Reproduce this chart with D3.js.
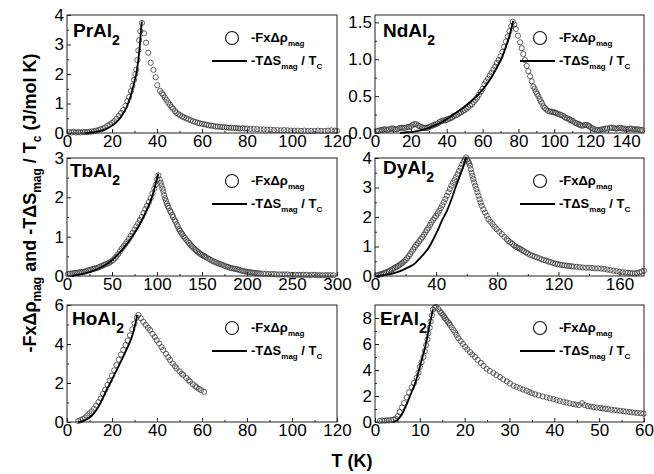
<!DOCTYPE html>
<html>
<head>
<meta charset="utf-8">
<script src="https://cdn.jsdelivr.net/npm/d3@7"></script>
<style>
  body { margin: 0; background: #fff; }
  svg text { font-family: Arial, "Liberation Sans", sans-serif; }
</style>
</head>
<body>
<svg id="chart" width="654" height="474"></svg>
<script>
// measured points, [T (K), value]
const prExp = [[1,0.03],[2,0.02],[3,0.04],[4,0.02],[5,0.03],[6,0.02],[7,0.04],[8,0.03],[9,0.03],[10,0.04],[11,0.05],[12,0.06],[13,0.08],[14,0.1],[15,0.12],[16,0.15],[17,0.19],[18,0.24],[19,0.29],[20,0.34],[21,0.4],[22,0.48],[23,0.58],[24,0.68],[25,0.78],[26,0.92],[26.8,1.08],[27.6,1.22],[28.4,1.42],[29.1,1.6],[29.8,1.8],[30.4,2.0],[30.8,2.15],[31.3,2.47],[31.7,2.8],[32.1,3.15],[32.6,3.45],[33.3,3.73],[34.2,3.38],[35.1,3.06],[36.1,2.72],[37.2,2.38],[38.4,2.14],[39.4,1.89],[40.1,1.62],[41.3,1.43],[42.2,1.35],[42.8,1.29],[43.5,1.2],[44.3,1.12],[45,1.03],[45.8,0.95],[46.5,0.88],[47.2,0.82],[48,0.74],[48.7,0.68],[49.5,0.64],[50.3,0.6],[51.2,0.56],[52,0.53],[53,0.5],[54,0.46],[55,0.43],[56,0.4],[57,0.38],[58,0.35],[59,0.33],[60,0.31],[61,0.3],[62,0.28],[63,0.26],[64,0.25],[65,0.24],[66,0.22],[67,0.22],[68,0.21],[69,0.2],[70,0.19],[71,0.19],[72,0.18],[73,0.18],[74,0.17],[75,0.17],[76,0.16],[77,0.15],[78,0.16],[79,0.15],[80,0.15],[81.5,0.14],[83,0.14],[84.5,0.13],[86,0.12],[87.5,0.12],[89,0.11],[90.5,0.11],[92,0.1],[93.5,0.1],[95,0.09],[96.5,0.1],[98,0.09],[99.5,0.08],[101,0.08],[102.5,0.08],[104,0.07],[105.5,0.08],[107,0.07],[108.5,0.07],[110,0.07],[111.5,0.08],[113,0.07],[114.5,0.07],[116,0.08],[117.5,0.09],[119,0.08],[120,0.07]];
const prCalc = [[8,0],[10,0.01],[12,0.03],[14,0.06],[16,0.1],[18,0.16],[20,0.25],[22,0.37],[24,0.55],[25,0.67],[26,0.8],[27,0.98],[28,1.18],[29,1.45],[30,1.75],[31,2.1],[31.8,2.55],[32.4,3.0],[32.9,3.5],[33.3,3.78]];

const ndExp = [[1,0.03],[2,0.03],[3,0.04],[4,0.04],[5,0.05],[6,0.05],[7,0.04],[8,0.05],[9,0.06],[10,0.06],[11,0.05],[12,0.05],[13,0.06],[14,0.07],[15,0.07],[16,0.07],[17,0.07],[18,0.08],[19,0.08],[20,0.09],[21,0.11],[22,0.12],[23,0.12],[24,0.1],[25,0.09],[26,0.08],[27,0.07],[28,0.07],[29,0.07],[30,0.08],[31,0.09],[32,0.1],[33,0.11],[34,0.12],[35,0.13],[36,0.15],[37,0.16],[38,0.17],[39,0.17],[40,0.18],[41,0.19],[42,0.2],[43,0.21],[44,0.23],[45,0.24],[46,0.25],[47,0.27],[48,0.28],[49,0.3],[50,0.31],[51,0.33],[52,0.35],[53,0.37],[54,0.39],[55,0.42],[56,0.45],[57,0.48],[58,0.52],[59,0.56],[60,0.6],[61,0.66],[62,0.7],[63,0.74],[64,0.78],[65,0.82],[66,0.86],[67,0.9],[68,0.95],[69,0.99],[70,1.04],[71,1.1],[72,1.17],[73,1.24],[74,1.31],[75,1.38],[76,1.45],[76.8,1.51],[77.7,1.47],[78.6,1.41],[79.7,1.32],[80.9,1.23],[81.8,1.15],[82.7,1.07],[83.6,0.99],[84.6,0.91],[85.5,0.84],[86.5,0.77],[87.4,0.7],[88.3,0.63],[89,0.6],[89.7,0.56],[90.4,0.53],[91.1,0.5],[91.8,0.46],[92.5,0.43],[93.2,0.4],[93.9,0.36],[94.7,0.34],[95.5,0.32],[96.5,0.3],[97.6,0.29],[98.5,0.29],[99.5,0.28],[100.3,0.28],[101,0.27],[102,0.26],[103.2,0.25],[104,0.24],[105,0.23],[106,0.21],[107,0.2],[108,0.19],[108.7,0.18],[109.5,0.17],[110.5,0.16],[111.5,0.14],[112.5,0.13],[113.5,0.12],[114.3,0.11],[115,0.1],[116,0.1],[117,0.11],[118,0.11],[119,0.1],[119.5,0.09],[120.5,0.07],[121.5,0.06],[122.5,0.05],[123.6,0.04],[124.5,0.04],[125.5,0.04],[126.5,0.05],[127.5,0.05],[128.5,0.06],[129.5,0.06],[131,0.07],[132,0.07],[133,0.07],[134,0.06],[135,0.06],[136,0.07],[137,0.07],[138,0.06],[139,0.06],[140,0.05],[141,0.05],[142,0.06],[143,0.06],[144,0.05],[145,0.05],[146,0.05],[147,0.05],[148,0.04],[149,0.04]];
const ndCalc = [[14,0],[18,0.01],[22,0.02],[26,0.04],[30,0.07],[34,0.11],[38,0.16],[42,0.22],[46,0.29],[50,0.36],[54,0.44],[58,0.53],[62,0.65],[65,0.76],[68,0.89],[71,1.04],[73,1.17],[75,1.32],[77,1.52]];

const tbExp = [[1,0.05],[3,0.06],[5,0.06],[7,0.07],[9,0.08],[11,0.08],[13,0.09],[15,0.1],[17,0.1],[19,0.11],[21,0.12],[23,0.14],[25,0.15],[27,0.16],[29,0.18],[31,0.19],[33,0.2],[35,0.22],[37,0.24],[39,0.26],[41,0.28],[43,0.3],[45,0.32],[47,0.34],[49,0.37],[51,0.4],[53,0.45],[55,0.5],[57,0.56],[59,0.63],[61,0.7],[63,0.76],[65,0.82],[67,0.88],[69,0.95],[71,1.02],[73,1.1],[75,1.18],[77,1.26],[79,1.34],[81,1.42],[83,1.5],[85,1.6],[87,1.7],[89,1.78],[91,1.88],[93,1.98],[95,2.1],[97,2.22],[98.5,2.32],[100,2.45],[101.5,2.56],[103,2.45],[104,2.37],[105,2.3],[106,2.22],[107,2.15],[108,2.06],[109,1.98],[110,1.91],[111,1.84],[112,1.78],[113,1.73],[114.5,1.66],[115.5,1.62],[117,1.55],[118,1.5],[119.5,1.43],[120.5,1.38],[122,1.31],[123,1.26],[124.5,1.19],[125.5,1.15],[127,1.1],[128,1.06],[129.5,1.01],[131,0.97],[132.5,0.92],[134,0.88],[135.5,0.84],[137,0.8],[138.5,0.76],[140,0.73],[141.5,0.69],[143,0.66],[144.5,0.63],[146,0.6],[147.5,0.57],[149,0.55],[150.5,0.53],[152,0.51],[153.5,0.49],[155,0.47],[157,0.44],[159,0.42],[161,0.39],[163,0.37],[165,0.35],[167,0.33],[169,0.31],[171,0.3],[173,0.28],[175,0.26],[177,0.24],[179,0.23],[181,0.21],[183,0.2],[185,0.19],[187,0.18],[189,0.17],[191,0.16],[193,0.14],[195,0.13],[197,0.12],[199,0.11],[201,0.1],[203,0.1],[205,0.09],[207,0.08],[209,0.08],[211,0.07],[213,0.07],[215,0.06],[218,0.06],[221,0.06],[224,0.05],[227,0.05],[230,0.05],[233,0.04],[236,0.04],[239,0.04],[242,0.04],[245,0.04],[248,0.03],[251,0.03],[254,0.03],[257,0.03],[260,0.03],[263,0.03],[266,0.03],[269,0.02],[272,0.03],[275,0.03],[278,0.02],[281,0.02],[284,0.02],[287,0.02],[290,0.02],[293,0.02],[296,0.02]];
const tbCalc = [[5,0],[10,0.02],[15,0.04],[20,0.07],[25,0.1],[30,0.14],[35,0.19],[40,0.25],[45,0.32],[50,0.4],[55,0.51],[60,0.63],[65,0.77],[70,0.92],[75,1.1],[80,1.28],[85,1.5],[90,1.75],[95,2.05],[98,2.3],[101.5,2.6]];

const dyExp = [[1,0.01],[2,0.03],[3,0.05],[4,0.06],[5,0.08],[6,0.1],[7,0.12],[8,0.14],[9,0.16],[10,0.19],[11,0.22],[12,0.25],[13,0.28],[14,0.31],[15,0.34],[16,0.37],[17,0.41],[18,0.45],[19,0.49],[20,0.54],[21,0.6],[22,0.67],[23,0.74],[24,0.82],[25,0.9],[26,0.98],[27,1.05],[28,1.11],[29,1.18],[30,1.25],[31,1.32],[32,1.4],[33,1.48],[34,1.56],[35,1.64],[36,1.73],[37,1.82],[38,1.9],[39,1.97],[40,2.04],[41,2.12],[42,2.21],[43,2.3],[44,2.4],[45,2.5],[46,2.61],[47,2.72],[48,2.84],[49,2.95],[50,3.06],[51,3.16],[52,3.25],[53,3.35],[54,3.45],[55,3.56],[56,3.67],[57,3.78],[58,3.87],[58.8,3.95],[59.6,4.02],[60.4,3.95],[61,3.88],[61.6,3.82],[62.2,3.74],[62.7,3.62],[63.2,3.5],[63.7,3.4],[64.3,3.29],[64.9,3.17],[65.6,3.06],[66.3,2.95],[67,2.84],[67.7,2.72],[68.4,2.6],[69.1,2.49],[69.8,2.38],[70.9,2.26],[72,2.15],[73.1,2.04],[74.2,1.93],[75.5,1.84],[76.9,1.76],[78.2,1.67],[79.6,1.59],[81.3,1.5],[83,1.42],[84.6,1.33],[86.2,1.25],[87.3,1.19],[88.5,1.14],[89.8,1.09],[91,1.04],[92,1.0],[93,0.97],[94,0.94],[95,0.92],[96.2,0.88],[97.5,0.84],[98.8,0.8],[100,0.76],[101.5,0.72],[103,0.69],[104.5,0.66],[106,0.63],[107.5,0.6],[109,0.57],[110.5,0.54],[112,0.52],[113.5,0.49],[115,0.47],[116.5,0.44],[118,0.42],[119.5,0.4],[121,0.39],[122.5,0.37],[124,0.36],[125.5,0.35],[127,0.34],[128.5,0.33],[130,0.32],[132,0.31],[134,0.3],[136,0.29],[138,0.28],[140,0.28],[142,0.27],[144,0.26],[146,0.26],[148,0.25],[150,0.24],[152,0.22],[154,0.2],[156,0.18],[158,0.16],[160,0.14],[162,0.13],[164,0.12],[165.5,0.11],[167,0.1],[168.5,0.09],[170,0.09],[171.5,0.1],[173,0.12],[174.5,0.15],[176,0.18]];
const dyCalc = [[1,0],[5,0.02],[10,0.06],[14,0.12],[18,0.2],[22,0.3],[26,0.42],[29,0.58],[32,0.75],[35,0.95],[38,1.23],[41,1.55],[44,1.9],[47,2.2],[50,2.6],[53,3.05],[56,3.45],[58,3.75],[59.6,4.02]];

const hoExp = [[5,0.05],[6,0.1],[7,0.15],[8,0.22],[9,0.33],[10,0.44],[11,0.55],[12,0.68],[13,0.84],[14,1.02],[15,1.2],[16,1.44],[17,1.66],[18,1.9],[19,2.12],[20,2.38],[21,2.65],[22,2.92],[23,3.2],[24,3.46],[25,3.7],[26,3.94],[27,4.18],[28,4.45],[29,4.75],[30,5.05],[31,5.35],[31.7,5.49],[32.8,5.32],[33.9,5.14],[35,4.98],[36,4.83],[36.9,4.72],[38,4.52],[39,4.36],[39.9,4.2],[41,4.02],[42,3.84],[42.8,3.69],[44,3.5],[45,3.32],[45.8,3.18],[47,3.0],[48,2.86],[48.7,2.75],[50,2.6],[51,2.48],[51.7,2.41],[53,2.26],[54,2.14],[54.7,2.07],[56,1.93],[57,1.84],[57.6,1.78],[58.6,1.7],[59.6,1.63],[60.9,1.55]];
const hoCalc = [[5,0],[7,0.05],[9,0.15],[11,0.32],[13,0.6],[15,1.0],[17,1.5],[19,1.96],[21,2.42],[23,2.88],[25,3.35],[27,3.85],[29,4.42],[30.3,5.0],[31.2,5.49]];

const erExp = [[1.1,0.08],[1.6,0.12],[2.1,0.1],[2.6,0.14],[3.1,0.12],[3.6,0.16],[4.1,0.18],[4.6,0.26],[5.1,0.45],[5.5,0.75],[6,1.11],[6.5,1.45],[7.1,1.89],[7.6,2.28],[8.2,2.67],[8.7,3.0],[9.3,3.4],[9.7,3.8],[10,4.23],[10.4,4.6],[10.8,5.0],[11.1,5.45],[11.4,5.91],[11.7,6.35],[11.9,6.82],[12.2,7.25],[12.4,7.73],[12.7,8.2],[12.9,8.64],[13.3,8.8],[13.6,8.85],[14.1,8.7],[14.5,8.5],[14.8,8.38],[15.1,8.25],[15.4,8.12],[15.6,7.99],[15.9,7.86],[16.2,7.72],[16.5,7.6],[16.7,7.47],[17.1,7.28],[17.5,7.08],[17.9,6.88],[18.2,6.69],[18.6,6.45],[19.1,6.22],[19.6,6.0],[20.1,5.78],[20.6,5.58],[21.2,5.38],[21.7,5.19],[22.3,5.0],[22.9,4.78],[23.6,4.55],[24.2,4.32],[24.9,4.1],[25.6,3.93],[26.4,3.77],[27.1,3.61],[27.9,3.45],[28.6,3.28],[29.4,3.12],[30.1,2.96],[30.9,2.8],[31.6,2.7],[32.3,2.6],[33,2.5],[33.8,2.41],[34.4,2.31],[35,2.22],[35.7,2.13],[36.5,2.05],[37.4,1.97],[38.3,1.89],[39,1.82],[39.8,1.76],[40.5,1.69],[41.2,1.62],[42,1.56],[42.7,1.5],[43.4,1.44],[44.2,1.38],[44.8,1.34],[45.5,1.3],[46.2,1.45],[46.8,1.3],[47.5,1.22],[48.2,1.18],[48.8,1.15],[49.5,1.11],[50.2,1.08],[50.8,1.05],[51.4,1.01],[52,0.98],[52.7,0.95],[53.4,0.92],[54,0.89],[54.7,0.86],[55.4,0.83],[56,0.8],[56.7,0.77],[57.3,0.74],[58,0.72],[58.6,0.7],[59.3,0.67],[59.9,0.65]];
const erCalc = [[4,0],[4.8,0.1],[5.5,0.35],[6,0.6],[6.7,1.1],[7.4,1.63],[8.1,2.25],[8.9,2.93],[9.5,3.6],[10,4.23],[10.6,5.0],[11.2,5.78],[11.7,6.6],[12.1,7.34],[12.5,8.0],[12.9,8.64]];

// axis ticks
const prXTicks = [0, 20, 40, 60, 80, 100, 120], prYTicks = [0, 1, 2, 3, 4];
const ndXTicks = [0, 20, 40, 60, 80, 100, 120, 140], ndYTicks = [0, 0.5, 1.0, 1.5];
const tbXTicks = [0, 50, 100, 150, 200, 250, 300], tbYTicks = [0, 1, 2, 3];
const dyXTicks = [0, 40, 80, 120, 160], dyYTicks = [0, 1, 2, 3, 4];
const hoXTicks = [0, 20, 40, 60, 80, 100, 120], hoYTicks = [0, 2, 4, 6];
const erXTicks = [0, 10, 20, 30, 40, 50, 60], erYTicks = [0, 2, 4, 6, 8];

const columns = [[67, 337], [375, 644]];
const rows = [[15, 133], [158, 276], [305, 422]];

const panels = [
    { name: "PrAl", exp: prExp, calc: prCalc, xDom: [0, 120], yDom: [0, 4],   xT: prXTicks, yT: prYTicks, col: 0, row: 0, fmt: d3.format("d"),   lab: [6, 22] },
    { name: "NdAl", exp: ndExp, calc: ndCalc, xDom: [0, 150], yDom: [0, 1.6], xT: ndXTicks, yT: ndYTicks, col: 1, row: 0, fmt: d3.format(".1f"), lab: [8, 22] },
    { name: "TbAl", exp: tbExp, calc: tbCalc, xDom: [0, 300], yDom: [0, 3],   xT: tbXTicks, yT: tbYTicks, col: 0, row: 1, fmt: d3.format("d"),   lab: [3, 19] },
    { name: "DyAl", exp: dyExp, calc: dyCalc, xDom: [0, 176], yDom: [0, 4],   xT: dyXTicks, yT: dyYTicks, col: 1, row: 1, fmt: d3.format("d"),   lab: [8, 16] },
    { name: "HoAl", exp: hoExp, calc: hoCalc, xDom: [0, 120], yDom: [0, 6],   xT: hoXTicks, yT: hoYTicks, col: 0, row: 2, fmt: d3.format("d"),   lab: [5, 20] },
    { name: "ErAl", exp: erExp, calc: erCalc, xDom: [0, 60],  yDom: [0, 9],   xT: erXTicks, yT: erYTicks, col: 1, row: 2, fmt: d3.format("d"),   lab: [5, 20] }
];

const svg = d3.select("#chart");

function midTicks(t) {
    let out = [];
    for (let i = 0; i < t.length - 1; i++) out.push((t[i] + t[i + 1]) / 2);
    return out;
}

function draw_legend(g) {
    g.append("circle").attr("cx", 165).attr("cy", 23).attr("r", 6.5)
        .attr("fill", "none").attr("stroke", "#111").attr("stroke-width", 1.1);
    let t1 = g.append("text").attr("x", 184).attr("y", 27)
        .attr("font-size", 13).attr("font-weight", "bold");
    t1.append("tspan").text("-FxΔρ");
    t1.append("tspan").attr("font-size", 8).attr("dy", 4).text("mag");

    g.append("line").attr("x1", 145).attr("x2", 180).attr("y1", 46).attr("y2", 46)
        .attr("stroke", "#000").attr("stroke-width", 1.8);
    let t2 = g.append("text").attr("x", 184).attr("y", 50)
        .attr("font-size", 13).attr("font-weight", "bold");
    t2.append("tspan").text("-TΔS");
    t2.append("tspan").attr("font-size", 8).attr("dy", 4).text("mag");
    t2.append("tspan").attr("dy", -4).text(" / T");
    t2.append("tspan").attr("font-size", 8).attr("dy", 4).text("C");
}

panels.forEach(p => {
    const [x0, x1] = columns[p.col];
    const [y0, y1] = rows[p.row];
    const w = x1 - x0, h = y1 - y0;
    const g = svg.append("g").attr("transform", `translate(${x0},${y0})`);

    const x = d3.scaleLinear().domain(p.xDom).range([0, w]);
    const y = d3.scaleLinear().domain(p.yDom).range([h, 0]);

    // frame
    g.append("rect").attr("width", w).attr("height", h)
        .attr("fill", "none").attr("stroke", "#222").attr("stroke-width", 1);

    // axes, ticks pointing inward
    const xa = g.append("g").attr("transform", `translate(0,${h})`)
        .call(d3.axisBottom(x).tickValues(p.xT).tickSize(-4).tickPadding(2).tickFormat(d3.format("d")));
    g.append("g").attr("transform", `translate(0,${h})`)
        .call(d3.axisBottom(x).tickValues(midTicks(p.xT)).tickSize(-2).tickFormat(""));
    const ya = g.append("g")
        .call(d3.axisLeft(y).tickValues(p.yT).tickSize(-4).tickPadding(3).tickFormat(p.fmt));
    g.append("g")
        .call(d3.axisLeft(y).tickValues(midTicks(p.yT)).tickSize(-2).tickFormat(""));
    g.selectAll(".domain").remove();
    g.selectAll(".tick line").attr("stroke", "#222");
    [xa, ya].forEach(a => a.selectAll("text")
        .attr("font-size", 17).attr("fill", "#000")
        .style("font-family", "Arial, 'Liberation Sans', sans-serif"));

    // measured points
    g.append("g").selectAll("circle").data(p.exp).join("circle")
        .attr("cx", d => x(d[0])).attr("cy", d => y(d[1])).attr("r", 2.6)
        .attr("fill", "none").attr("stroke", "#333").attr("stroke-width", 0.75);

    // calculated curve
    g.append("path").datum(p.calc)
        .attr("d", d3.line().x(d => x(d[0])).y(d => y(d[1])).curve(d3.curveMonotoneX))
        .attr("fill", "none").attr("stroke", "#000").attr("stroke-width", 1.8);

    // compound label
    let lab = g.append("text").attr("x", p.lab[0]).attr("y", p.lab[1])
        .attr("font-size", 19).attr("font-weight", "bold");
    lab.append("tspan").text(p.name);
    lab.append("tspan").attr("font-size", 14).attr("dy", 8).text("2");

    draw_legend(g);
});

// y title
let yt = svg.append("text").attr("transform", "translate(36,203) rotate(-90)")
    .attr("text-anchor", "middle").attr("font-size", 18).attr("font-weight", "bold");
yt.append("tspan").text("-FxΔρ");
yt.append("tspan").attr("font-size", 12).attr("dy", 5).text("mag");
yt.append("tspan").attr("dy", -5).text(" and  -TΔS");
yt.append("tspan").attr("font-size", 12).attr("dy", 5).text("mag");
yt.append("tspan").attr("dy", -5).text(" / T");
yt.append("tspan").attr("font-size", 12).attr("dy", 5).text("c");
yt.append("tspan").attr("dy", -5).text(" (J/mol K)");

// x title
svg.append("text").attr("x", 352).attr("y", 467).attr("text-anchor", "middle")
    .attr("font-size", 18).attr("font-weight", "bold").text("T (K)");
</script>
</body>
</html>
